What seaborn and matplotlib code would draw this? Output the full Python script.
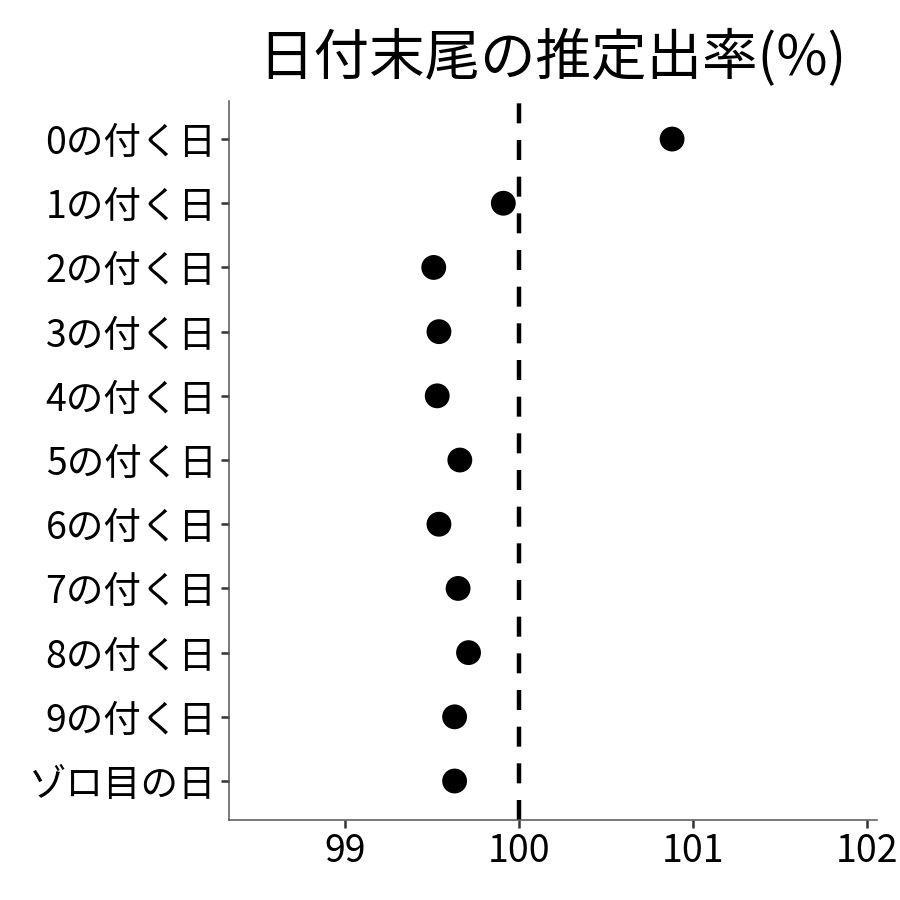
import matplotlib
matplotlib.use('Agg')
import matplotlib.pyplot as plt
import seaborn as sns
import pandas as pd

# data
labels = ['0の付く日', '1の付く日', '2の付く日', '3の付く日', '4の付く日',
          '5の付く日', '6の付く日', '7の付く日', '8の付く日', '9の付く日', 'ゾロ目の日']
rates = [100.88, 99.91, 99.51, 99.54, 99.53, 99.66, 99.54, 99.65, 99.71, 99.63, 99.63]
x_ticks = [99, 100, 101, 102]

df = pd.DataFrame({'label': labels, 'rate': rates})

sns.set_theme(style='white')
plt.rcParams['font.family'] = ['Noto Sans CJK JP', 'DejaVu Sans']

fig = plt.figure(figsize=(9, 9), dpi=100)
ax = fig.add_axes([0.2544, 0.0894, 0.7197, 0.7989])

# reference line at 100%
ax.axvline(100, color='black', linewidth=3.2, linestyle=(0, (4.5, 3.75)),
           dash_capstyle='butt', zorder=1)

sns.scatterplot(data=df, x='rate', y='label', color='black', s=320,
                edgecolor='none', ax=ax, zorder=3)

ax.set_xlim(98.333, 102.056)
ax.set_ylim(len(labels) - 0.4, -0.6)
ax.set_xticks(x_ticks)
ax.set_xticklabels([str(t) for t in x_ticks])

ax.set_xlabel('')
ax.set_ylabel('')
ax.set_title('日付末尾の推定出率(%)', fontsize=40, pad=18, color='black')

for side in ['top', 'right']:
    ax.spines[side].set_visible(False)
for side in ['left', 'bottom']:
    ax.spines[side].set_color('#555555')
    ax.spines[side].set_linewidth(1.1)

ax.tick_params(axis='both', which='major', length=6, width=1.8, color='#333333',
               labelsize=27, labelcolor='black', pad=3,
               left=True, bottom=True)

fig.savefig('out.png', dpi=100)
